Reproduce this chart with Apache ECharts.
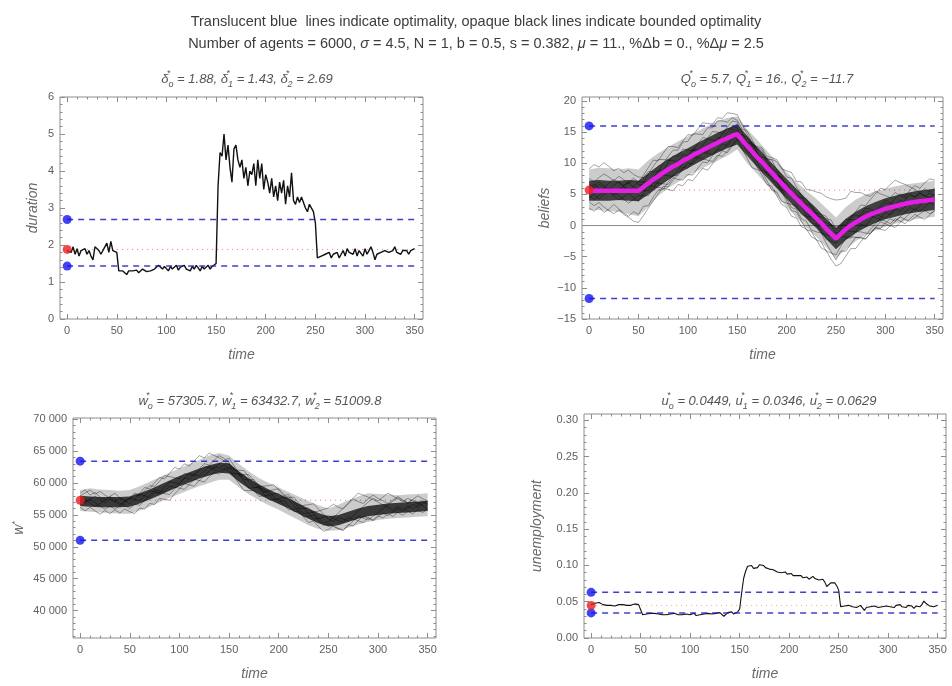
<!DOCTYPE html>
<html>
<head>
<meta charset="utf-8">
<title>bounded optimality</title>
<script src="https://cdn.jsdelivr.net/npm/echarts@6.0.0/dist/echarts.min.js"></script>
<style>
html, body { margin: 0; padding: 0; background: #ffffff; }
#chart { width: 952px; height: 686px; }
</style>
</head>
<body>
<div id="chart"></div>
<script>
// reference values (optimality)
var deltaO = 1.88, delta1 = 1.43, delta2 = 2.69
var qO = 5.7, q1 = 16, q2 = -11.7
var wO = 57305.7, w1 = 63432.7, w2 = 51009.8
var uO = 0.0449, u1 = 0.0346, u2 = 0.0629

// tick labels
var timeTicks = [0, 50, 100, 150, 200, 250, 300, 350]
var durTicks = [0, 1, 2, 3, 4, 5, 6]
var beliefTicks = [-15, -10, -5, 0, 5, 10, 15, 20]
var wageTicks = [40000, 45000, 50000, 55000, 60000, 65000, 70000]
var unempTicks = [0, 0.05, 0.10, 0.15, 0.20, 0.25, 0.30]

// duration, every 2 periods from t = 0
var duration = [
  1.85, 1.9, 1.8, 1.95, 1.75, 1.9, 1.7, 1.85, 1.8, 1.9, 1.75, 1.85, 1.7, 1.6, 1.95, 2.0, 1.85, 1.75, 1.8, 1.95, 2.05, 1.8, 2.1, 1.85, 1.85, 1.8,
  1.3, 1.25, 1.3, 1.25, 1.2, 1.3, 1.25, 1.3, 1.28, 1.32, 1.25, 1.3, 1.35, 1.3, 1.28, 1.32, 1.3, 1.25, 1.35, 1.3,
  1.45, 1.4, 1.35, 1.42, 1.38, 1.3, 1.42, 1.35, 1.4, 1.45, 1.32, 1.4, 1.38, 1.45, 1.35, 1.4, 1.3, 1.42, 1.35, 1.45,
  1.38, 1.3, 1.42, 1.35, 1.4, 1.45, 1.35, 1.42, 1.45, 1.5,
  3.6, 4.5, 4.4, 5.0, 4.3, 4.7, 4.1, 3.7, 4.6, 4.7, 4.3, 4.1, 4.3, 3.8, 4.1, 3.6, 4.0, 3.9, 4.2, 3.6,
  4.3, 3.8, 4.2, 3.5, 3.9, 3.7, 3.4, 3.8, 3.3, 3.6, 3.2, 3.7, 3.4, 3.75, 3.1, 3.6, 3.3, 3.95, 3.2, 3.1,
  3.3, 3.15, 3.3, 3.35, 3.0, 2.9, 3.1, 3.05, 2.9, 2.6,
  1.65, 1.6, 1.7, 1.65, 1.75, 1.7, 1.8, 1.65, 1.75, 1.7, 1.8, 1.65, 1.75, 1.85, 1.7, 1.9, 1.8, 1.85, 1.75, 1.9,
  1.7, 1.85, 1.8, 1.7, 1.9, 1.75, 1.85, 1.95, 1.8, 1.6, 1.75, 1.7, 1.8, 1.75, 1.85, 1.9, 1.8, 1.75, 1.85, 1.95,
  1.8, 1.85, 1.75, 1.85, 1.8, 1.85, 1.75, 1.85, 1.8, 1.9
]

// unemployment, every 2 periods from t = 0
var unemployment = [
  0.046, 0.047, 0.048, 0.047, 0.049, 0.048, 0.046, 0.047, 0.045, 0.046, 0.045, 0.046, 0.044, 0.045, 0.046, 0.045, 0.046, 0.044, 0.045, 0.046,
  0.045, 0.046, 0.047, 0.045, 0.046, 0.046,
  0.032, 0.034, 0.033, 0.032, 0.034, 0.033, 0.034, 0.032, 0.033, 0.034, 0.032, 0.033, 0.032, 0.031, 0.033, 0.032, 0.034, 0.033, 0.032, 0.030,
  0.032, 0.034, 0.033, 0.034, 0.032, 0.033, 0.034, 0.031, 0.030, 0.032, 0.034, 0.033, 0.032, 0.034, 0.035, 0.033, 0.032, 0.034, 0.036, 0.035,
  0.033, 0.030, 0.031, 0.035, 0.034, 0.036, 0.033, 0.035, 0.036, 0.040,
  0.062, 0.082, 0.092, 0.099, 0.097, 0.100, 0.096, 0.098, 0.097, 0.101, 0.099, 0.100, 0.097, 0.098, 0.095, 0.096, 0.094, 0.093, 0.091, 0.093,
  0.090, 0.089, 0.091, 0.088, 0.087, 0.089, 0.086, 0.085, 0.086, 0.084, 0.086, 0.083, 0.082, 0.084, 0.081, 0.083, 0.085, 0.082, 0.083, 0.080,
  0.082, 0.081, 0.077, 0.071, 0.073, 0.076, 0.078, 0.076, 0.072, 0.066,
  0.043, 0.041, 0.044, 0.043, 0.045, 0.044, 0.043, 0.044, 0.042, 0.044, 0.045, 0.043, 0.038, 0.042, 0.044, 0.043, 0.041, 0.044, 0.043, 0.042,
  0.044, 0.043, 0.045, 0.044, 0.046, 0.043, 0.044, 0.042, 0.045, 0.044, 0.046, 0.043, 0.044, 0.042, 0.045, 0.043, 0.044, 0.041, 0.044, 0.045,
  0.043, 0.046, 0.051, 0.048, 0.047, 0.044, 0.045, 0.043, 0.042, 0.045
]

// mean belief (magenta), every 5 periods
var beliefMean = [
  5.6, 5.6, 5.6, 5.6, 5.6, 5.6, 5.6, 5.6, 5.6, 5.6,
  5.6, 6.2, 6.8, 7.4, 7.9, 8.5, 9.0, 9.5, 9.9, 10.4,
  10.8, 11.3, 11.7, 12.1, 12.5, 12.9, 13.3, 13.7, 14.0, 14.4,
  14.7, 13.7, 12.8, 11.9, 11.0, 10.2, 9.3, 8.5, 7.6, 6.8,
  5.9, 5.1, 4.3, 3.5, 2.7, 2.0, 1.2, 0.4, -0.5, -1.3,
  -2.1, -1.3, -0.6, 0.0, 0.5, 1.0, 1.4, 1.8, 2.1, 2.4,
  2.7, 2.9, 3.1, 3.3, 3.5, 3.65, 3.8, 3.9, 4.0, 4.1,
  4.2
]

// individual agents' beliefs, every 5 periods
var b1 = [9.1, 9.8, 9.4, 10.1, 9.5, 8.8, 9.2, 8.5, 8.9, 8.2, 7.8, 7.7, 8.7, 8.6, 8.7, 9.9, 11.1, 12.1, 12.1, 13.4,
  13.5, 14.7, 14.7, 14.6, 15.7, 15.7, 16.8, 16.8, 16.6, 17.3, 16.9, 15.5, 15.2, 13.8, 12.3, 11.9, 10.4, 9.1, 8.6, 7.2,
  6.8, 5.4, 4.1, 3.9, 2.4, 2.2, 2.0, 0.7, 0.5, 0.1, -0.2, 0.0, 0.2, 1.5, 1.6, 1.5, 2.3, 2.1, 1.9, 2.8,
  3.6, 3.4, 4.4, 5.1, 4.7, 5.7, 6.4, 6.0, 6.9, 7.5, 7.3]
var b2 = [2.8, 2.3, 3.0, 2.1, 2.6, 3.4, 2.7, 2.0, 1.5, 2.2, 1.8, 3.1, 3.2, 4.6, 5.7, 5.8, 7.0, 8.1, 8.0, 9.1,
  10.0, 9.9, 10.8, 11.8, 11.6, 11.4, 12.2, 13.1, 12.8, 13.7, 14.4, 14.1, 12.6, 12.4, 11.1, 9.6, 8.2, 7.8, 6.2, 5.9,
  4.3, 2.9, 2.6, 1.1, 0.7, -0.7, -1.0, -1.2, -2.8, -4.2, -5.5, -4.1, -4.1, -3.0, -1.9, -1.9, -2.1, -1.2, -0.3, -0.5,
  0.4, 1.1, 0.7, 1.4, 1.0, 0.7, 1.3, 1.9, 2.4, 1.9, 2.4]
var b3 = [6.1, 6.7, 6.0, 5.3, 5.8, 6.5, 7.0, 6.4, 6.9, 6.2, 5.7, 5.6, 5.6, 6.9, 6.8, 6.7, 6.6, 7.7, 7.4, 7.3,
  8.2, 8.1, 9.2, 10.2, 10.1, 11.2, 12.2, 12.1, 13.1, 14.1, 14.9, 14.5, 14.2, 12.8, 12.5, 12.2, 10.7, 10.6, 10.3, 9.1,
  8.8, 8.5, 7.1, 7.0, 5.8, 5.7, 5.4, 5.2, 4.6, 4.3, 4.1, 4.2, 4.4, 5.5, 5.3, 5.3, 4.9, 4.7, 5.5, 5.1,
  4.8, 4.5, 5.3, 4.8, 4.4, 5.1, 4.6, 5.2, 4.7, 5.2, 4.8]
var b4 = [4.4, 5.0, 4.3, 4.9, 5.5, 4.8, 4.1, 4.6, 5.2, 4.5, 3.9, 5.2, 6.4, 7.7, 8.8, 8.9, 10.1, 11.2, 11.1, 12.3,
  12.1, 12.0, 13.1, 14.1, 14.0, 15.1, 15.0, 14.8, 15.8, 16.8, 16.6, 14.9, 13.4, 13.2, 11.7, 10.3, 8.7, 7.3, 6.9, 5.4,
  3.9, 2.4, 2.2, 0.7, -0.7, -0.9, -2.3, -2.6, -4.1, -4.4, -4.7, -3.3, -2.0, -2.0, -1.0, 0.2, 0.0, 0.9, 1.8, 1.5,
  1.2, 1.9, 2.7, 2.3, 3.0, 3.8, 3.4, 4.1, 3.7, 4.4, 4.0]
var b5 = [7.6, 7.0, 7.7, 8.3, 7.8, 7.2, 7.9, 7.4, 6.7, 7.3, 6.6, 6.5, 6.4, 6.3, 6.1, 6.0, 5.8, 5.6, 6.6, 6.4,
  7.4, 7.2, 8.2, 9.2, 8.9, 9.9, 11.0, 12.0, 11.7, 12.8, 13.7, 13.4, 13.2, 11.7, 10.2, 8.7, 7.2, 5.7, 5.4, 3.9,
  3.6, 3.4, 3.2, 1.8, 1.5, 1.4, 1.3, -0.1, -0.3, -1.7, -1.9, -1.8, -1.8, -1.8, -1.9, -2.0, -2.2, -1.2, -0.3, 0.6,
  0.3, -0.1, 0.7, 1.4, 2.2, 2.9, 2.5, 3.2, 3.9, 4.6, 4.2]
var b6 = [5.3, 6.0, 6.6, 6.1, 6.8, 7.4, 6.9, 6.3, 5.8, 5.2, 5.8, 7.0, 8.3, 9.5, 10.6, 10.6, 10.5, 10.4, 10.2, 10.1,
  11.2, 12.3, 12.2, 12.0, 11.8, 12.7, 13.7, 14.7, 15.6, 15.5, 15.3, 13.6, 13.3, 13.0, 12.7, 12.5, 11.1, 10.9, 10.6, 9.3,
  7.8, 7.6, 6.2, 4.8, 3.4, 3.3, 2.0, 1.8, 1.5, 0.1, -1.2, -1.0, -0.9, -0.9, -1.0, -1.0, -1.2, -1.3, -0.4, -0.6,
  -0.8, 0.0, -0.3, 0.5, 1.2, 2.0, 2.7, 2.3, 3.0, 3.7, 3.3]
var b7 = [3.8, 3.2, 3.7, 3.0, 2.4, 1.9, 2.5, 1.8, 1.3, 0.7, 0.5, 1.6, 2.8, 4.0, 5.1, 6.3, 6.2, 7.3, 8.3, 9.4,
  9.2, 10.3, 11.3, 12.3, 12.1, 13.1, 14.1, 14.0, 14.9, 15.9, 15.7, 14.0, 12.5, 11.0, 9.5, 8.1, 6.6, 6.3, 4.8, 3.4,
  2.9, 1.5, 1.2, -0.2, -0.5, -1.8, -2.2, -3.6, -4.0, -5.4, -6.5, -6.1, -4.9, -3.7, -3.7, -2.6, -1.6, -0.6, 0.3, 1.2,
  2.1, 1.7, 2.5, 3.3, 4.1, 4.9, 4.5, 5.2, 4.8, 4.4, 5.0]
var b8 = [6.6, 6.0, 5.4, 6.1, 5.5, 4.9, 5.5, 6.2, 5.6, 6.3, 6.9, 8.1, 9.3, 10.5, 10.4, 11.6, 12.7, 12.7, 12.5, 13.6,
  14.6, 14.5, 15.5, 16.5, 16.4, 16.3, 17.3, 17.2, 18.1, 18.0, 17.8, 16.2, 14.7, 13.2, 11.7, 10.3, 8.8, 8.6, 7.1, 5.7,
  5.4, 5.2, 5.0, 3.7, 2.3, 1.0, 0.7, -0.7, -2.2, -2.5, -2.8, -1.4, -0.1, 1.1, 2.2, 3.3, 3.2, 4.2, 5.1, 6.0,
  5.8, 6.6, 7.3, 6.9, 6.6, 6.2, 5.8, 5.3, 5.9, 5.4, 6.0]
var b9 = [4.8, 4.2, 4.8, 5.4, 6.0, 5.4, 4.8, 4.2, 3.6, 4.2, 4.8, 4.8, 4.8, 6.0, 7.1, 8.3, 9.4, 9.3, 10.3, 11.4,
  11.2, 11.1, 10.9, 10.7, 10.5, 10.3, 11.3, 11.1, 12.0, 13.0, 13.9, 12.3, 10.8, 9.3, 9.0, 8.8, 8.5, 8.3, 8.0, 7.8,
  6.3, 4.9, 4.7, 4.5, 4.3, 3.0, 1.6, 1.4, 1.1, 0.9, -0.5, -0.3, 1.0, 1.0, 0.9, 0.8, 1.8, 1.6, 1.3, 1.0,
  0.7, 0.3, 1.1, 0.7, 0.3, 1.1, 1.8, 1.3, 1.0, 1.7, 2.4]
var b10 = [5.8, 6.4, 7.0, 6.4, 5.8, 5.2, 5.8, 6.4, 7.0, 7.6, 7.0, 7.0, 7.0, 7.0, 8.1, 8.1, 8.0, 7.9, 8.9, 10.0,
  11.0, 12.1, 11.9, 12.9, 13.9, 13.7, 13.5, 13.3, 14.2, 15.2, 14.9, 13.3, 11.8, 11.5, 11.2, 11.0, 10.7, 10.5, 9.0, 7.6,
  6.1, 4.7, 4.5, 3.1, 1.7, 0.4, 0.2, -1.2, -1.5, -1.7, -1.9, -0.5, -0.4, -0.4, 0.7, 1.8, 2.8, 2.6, 2.3, 3.2,
  4.1, 3.7, 3.3, 4.1, 3.7, 3.3, 4.0, 3.5, 4.2, 3.7, 4.4]
var beliefLines = [b1, b2, b3, b4, b5, b6, b7, b8, b9, b10]

// dense part of the belief bundle, every 10 periods
var beliefCoreLow = [4.0, 4.0, 4.0, 4.1, 4.0, 3.9, 5.0, 6.2, 7.3, 8.3, 9.2, 10.1, 10.9, 11.7, 12.4, 13.0, 11.2, 9.4,
  7.7, 6.0, 4.3, 2.7, 1.1, -0.4, -2.1, -3.8, -2.3, -1.2, -0.3, 0.4, 1.0, 1.4, 1.8, 2.1, 2.3, 2.5]
var beliefCoreHigh = [7.2, 7.3, 7.2, 7.2, 7.3, 7.2, 8.4, 9.6, 10.7, 11.6, 12.4, 13.3, 14.1, 14.9, 15.6, 16.3, 14.4, 12.6,
  10.9, 9.2, 7.5, 5.9, 4.3, 2.8, 1.1, -0.4, 1.1, 2.2, 3.1, 3.8, 4.4, 4.8, 5.2, 5.5, 5.7, 5.9]
var beliefOuterLow = [2.5, 2.5, 2.3, 2.2, 1.8, 1.5, 3.0, 4.8, 6.0, 7.0, 8.0, 8.8, 9.6, 10.4, 11.2, 12.2, 10.0, 8.3,
  6.5, 4.8, 3.0, 1.3, -0.3, -1.8, -3.5, -5.3, -3.8, -2.5, -1.5, -0.8, -0.2, 0.3, 0.7, 1.0, 1.2, 1.4]
var beliefOuterHigh = [9.0, 9.3, 9.2, 9.0, 9.2, 9.0, 10.5, 11.6, 12.6, 13.5, 14.3, 15.2, 16.0, 16.8, 17.3, 17.5, 15.5, 13.8,
  12.0, 10.3, 8.6, 7.0, 5.6, 4.3, 2.8, 1.3, 3.0, 4.2, 5.0, 5.5, 5.9, 6.3, 6.6, 6.8, 7.0, 7.2]

// individual agents' reservation wages, every 5 periods
var wa = [58400, 58950, 58100, 58550, 57800, 57300, 57900, 58400, 57700, 57250, 56700, 57500, 58400, 59300, 59100, 60050, 60900, 60650, 61500, 62450,
  62200, 63000, 62700, 63500, 64300, 63950, 64700, 64300, 64000, 63450, 62800, 61500, 61400, 60250, 59200, 59250, 59300, 58300, 57400, 57450,
  57600, 57750, 57900, 57000, 56100, 55200, 55300, 55450, 55600, 55850, 56100, 56700, 56200, 55950, 56700, 57450, 57100, 56800, 57500, 58100,
  57600, 57200, 56800, 57350, 57900, 57350, 56900, 57450, 58000, 57550, 57100]
var wb = [56200, 55650, 56200, 55650, 55100, 55700, 55200, 55800, 55300, 55950, 55500, 55200, 56100, 55900, 56800, 56650, 57600, 57450, 57300, 58250,
  59100, 59900, 59700, 59500, 60400, 60150, 61000, 61700, 61400, 62050, 62400, 62300, 61200, 61250, 60200, 59250, 59400, 58500, 58700, 57850,
  57000, 57250, 56400, 55500, 55600, 54700, 53800, 54050, 53200, 52450, 52700, 53300, 52900, 52650, 53500, 53250, 54100, 53800, 54600, 54200,
  54900, 54500, 55200, 54750, 55400, 54950, 55600, 55150, 55800, 55350, 56000]
var wc = [57600, 56950, 57400, 57950, 57400, 56900, 57500, 57000, 57600, 57150, 57700, 57400, 57200, 58000, 57700, 58550, 58400, 59350, 60200, 60050,
  59900, 60800, 60600, 61400, 62200, 63050, 62800, 63600, 64300, 63850, 63200, 62000, 62000, 61950, 60900, 59950, 59000, 59100, 58200, 57350,
  57500, 56650, 55800, 55900, 56000, 56100, 55200, 54350, 54500, 53750, 54000, 54600, 55300, 56050, 56900, 57650, 58400, 58100, 57800, 57400,
  57000, 56600, 56200, 55750, 56300, 55850, 56400, 55950, 56500, 57050, 56600]
var wd = [56900, 57450, 56900, 56350, 56800, 57400, 57900, 57400, 56900, 56450, 56000, 56700, 56500, 57300, 58100, 58950, 58800, 58650, 59500, 59350,
  59200, 59000, 59800, 60600, 60400, 61150, 61900, 62600, 62300, 62850, 62200, 61000, 59900, 58850, 58800, 58850, 57900, 58000, 58100, 58250,
  58400, 57550, 57700, 57800, 56900, 56000, 56100, 55250, 54400, 54650, 54900, 54500, 54100, 53850, 54600, 54350, 54100, 54800, 54500, 54100,
  54700, 55300, 54900, 55450, 56000, 55550, 56100, 56650, 56200, 56750, 57300]
var we = [58000, 58450, 58900, 58250, 58700, 58100, 57600, 57100, 56600, 57150, 57700, 58400, 58200, 58000, 58800, 58650, 58500, 58350, 58200, 59050,
  59900, 60700, 61500, 61300, 61100, 61850, 62600, 62300, 63000, 63550, 63900, 62700, 61600, 60550, 60500, 60550, 59600, 58700, 58800, 58950,
  59100, 58250, 57400, 56500, 55600, 54700, 54800, 54950, 54100, 53350, 53600, 53200, 52800, 52550, 53300, 54050, 54800, 54500, 54200, 54800,
  55400, 56000, 56600, 57150, 57700, 57250, 56800, 57350, 56900, 56450, 56000]
var wf = [56600, 57050, 57500, 56950, 56400, 55900, 56400, 55900, 56400, 56950, 57500, 58200, 58000, 58800, 59600, 59450, 60300, 61150, 61000, 60850,
  60700, 61500, 61300, 61100, 61900, 62650, 62400, 62100, 61800, 62350, 61700, 61500, 61400, 61350, 61300, 60350, 59400, 59500, 59600, 59750,
  58900, 58050, 58200, 57300, 56400, 56500, 56600, 56750, 55900, 55150, 54400, 54000, 54600, 54350, 54100, 54850, 55600, 56300, 57000, 57600,
  57200, 57800, 58400, 57950, 57500, 57050, 57600, 57150, 56700, 57250, 56800]
var wageLines = [wa, wb, wc, wd, we, wf]

// dense part of the wage bundle, every 10 periods
var wageCoreLow = [56400, 56300, 56200, 56200, 56200, 56300, 56800, 57400, 58100, 58800, 59500, 60100, 60700, 61200, 61600, 61500, 60200, 59100,
  58200, 57400, 56700, 56000, 55200, 54400, 53700, 53200, 53400, 53900, 54400, 54800, 55000, 55200, 55300, 55400, 55500, 55600]
var wageCoreHigh = [58000, 57900, 57800, 57800, 57800, 57900, 58400, 59000, 59700, 60400, 61100, 61700, 62300, 62800, 63200, 63100, 61800, 60700,
  59800, 59000, 58300, 57600, 56800, 56000, 55300, 54800, 55000, 55500, 56000, 56400, 56600, 56800, 56900, 57000, 57100, 57200]
var wageOuterLow = [55600, 55500, 55400, 55300, 55200, 55200, 55700, 56300, 57000, 57700, 58300, 58900, 59500, 60000, 60500, 60500, 59300, 58200,
  57300, 56500, 55800, 55000, 54200, 53400, 52800, 52500, 52600, 53000, 53500, 53900, 54200, 54400, 54500, 54600, 54700, 54800]
var wageOuterHigh = [58900, 59200, 59000, 58900, 58800, 58900, 59500, 60200, 60900, 61600, 62300, 63000, 63600, 64300, 64700, 64300, 63000, 61800,
  60800, 60000, 59300, 58600, 57900, 57200, 56500, 56000, 56600, 57300, 57900, 58400, 58300, 58200, 58100, 58200, 58300, 58400]

function stepTimes (step, n) {
  var out = []
  for (var i = 0; i < n; i++) out.push(i * step)
  return out
}
function pairs (times, values) {
  return values.map(function (v, i) { return [times[i], v] })
}
function minorOf (lo, hi, step, majors) {
  var out = []
  for (var v = lo; v <= hi + 1e-9; v += step) {
    var r = Math.round(v * 1e6) / 1e6
    if (majors.indexOf(r) < 0) out.push(r)
  }
  return out
}

var font = 'Liberation Sans'
var frameGray = '#8c8c8c'
var labelGray = '#606060'
var xRange = [-7.2, 358.4]
var timeMinor = minorOf(0, 350, 10, timeTicks)

// labelled + minor ticks on one side, mirrored major + minor on the other
function axesFor (gi, isX, range, major, minor, fmt, name, gap) {
  var sides = isX ? ['bottom', 'top'] : ['left', 'right']
  var list = []
  sides.forEach(function (pos, k) {
    [major, minor].forEach(function (vals, m) {
      var ax = {
        gridIndex: gi, type: 'value', min: range[0], max: range[1], position: pos,
        axisLine: {show: false, onZero: false},
        splitLine: {show: false},
        axisTick: {show: true, inside: true, length: m === 0 ? 5 : 2.5, customValues: vals, lineStyle: {color: frameGray, width: 1}},
        axisLabel: {show: false}
      }
      if (k === 0 && m === 0) {
        ax.axisLabel = {show: true, customValues: major, formatter: fmt, color: labelGray, fontSize: 11, fontFamily: font, margin: 6}
        ax.name = name
        ax.nameLocation = 'middle'
        ax.nameGap = gap
        ax.nameTextStyle = {fontStyle: 'italic', fontSize: 14, color: '#6a6a6a', fontFamily: font, rich: {sp: {fontSize: 9, fontStyle: 'italic', color: '#6a6a6a', verticalAlign: 'top', lineHeight: 16}}}
      }
      list.push(ax)
    })
  })
  return list
}

var grids = [
  {left: 60, top: 97, width: 363, height: 222},
  {left: 582, top: 97, width: 361, height: 222},
  {left: 73, top: 418, width: 363, height: 220},
  {left: 584, top: 414, width: 362, height: 224}
]
grids.forEach(function (g) {
  g.show = true
  g.borderColor = frameGray
  g.borderWidth = 1
  g.backgroundColor = 'transparent'
})

var plainFmt = function (v) { return String(v) }
var xAxes = []
var yAxes = []
for (var gi = 0; gi < 4; gi++) {
  xAxes = xAxes.concat(axesFor(gi, true, xRange, timeTicks, timeMinor, plainFmt, 'time', 29))
}
yAxes = yAxes.concat(axesFor(0, false, [0, 6], durTicks, minorOf(0, 6, 0.2, durTicks), plainFmt, 'duration', 20))
yAxes = yAxes.concat(axesFor(1, false, [-15, 20.64], beliefTicks, minorOf(-15, 20, 1, beliefTicks), function (v) { return v < 0 ? '\u2212' + (-v) : String(v) }, 'beliefs', 30))
yAxes = yAxes.concat(axesFor(2, false, [35700, 70200], wageTicks, minorOf(36000, 70000, 1000, wageTicks), function (v) {
  var s = String(v)
  return s.slice(0, s.length - 3) + ' ' + s.slice(s.length - 3)
}, 'w{sp|*}', 46))
yAxes = yAxes.concat(axesFor(3, false, [0, 0.3088], unempTicks, minorOf(0.01, 0.3, 0.01, unempTicks.map(function (v) { return Math.round(v * 1e6) / 1e6 })), function (v) { return v.toFixed(2) }, 'unemployment', 40))

var t2 = stepTimes(2, 176)
var t5 = stepTimes(5, 71)
var t10 = stepTimes(10, 36)

function line (gi, data, style, z) {
  return {type: 'line', xAxisIndex: gi * 4, yAxisIndex: gi * 4, data: data, showSymbol: false, symbol: 'none', silent: true, lineStyle: style, z: z || 2}
}
function hline (gi, v, style, x0, x1, z) {
  return line(gi, [[x0, v], [x1, v]], style, z)
}
// filled polygon between two envelopes, placed through the grid's own axes
function band (gi, lower, upper, color) {
  return {
    type: 'custom', xAxisIndex: gi * 4, yAxisIndex: gi * 4, silent: true, z: 2,
    data: [[t10[0], lower[0]]],
    renderItem: function (params, api) {
      var pts = []
      upper.forEach(function (v, i) { pts.push(api.coord([t10[i], v])) })
      for (var i = lower.length - 1; i >= 0; i--) pts.push(api.coord([t10[i], lower[i]]))
      return {type: 'polygon', shape: {points: pts}, style: {fill: color}}
    }
  }
}
function dots (gi, blues, red) {
  var base = {type: 'scatter', xAxisIndex: gi * 4, yAxisIndex: gi * 4, symbolSize: 9, silent: true, z: 10}
  return [
    Object.assign({}, base, {data: blues.map(function (v) { return [0, v] }), itemStyle: {color: '#1414f0'}}),
    Object.assign({}, base, {data: [[0, red]], itemStyle: {color: '#ee1c1c'}})
  ]
}

var blueDash = {color: 'rgba(30,30,190,0.85)', width: 1.5, type: [6, 5]}
var redDot = {color: 'rgba(225,70,70,0.75)', width: 1, type: [1, 4]}
var agentLine = {color: 'rgba(0,0,0,0.45)', width: 0.8}

var series = []
// duration
series.push(hline(0, deltaO, redDot, 0, 350, 1))
series.push(line(0, pairs(t2, duration), {color: '#111', width: 1.4}, 3))
series.push(hline(0, delta2, blueDash, 0, 350, 4))
series.push(hline(0, delta1, blueDash, 0, 350, 4))
series = series.concat(dots(0, [delta2, delta1], deltaO))

// beliefs
series.push(hline(1, 0, {color: '#8a8a8a', width: 1}, xRange[0], xRange[1], 1))
series.push(hline(1, qO, redDot, 0, 350, 1))
series.push(band(1, beliefOuterLow, beliefOuterHigh, 'rgba(0,0,0,0.2)'))
series.push(band(1, beliefCoreLow, beliefCoreHigh, 'rgba(10,10,10,0.72)'))
beliefLines.forEach(function (b) { series.push(line(1, pairs(t5, b), agentLine, 3)) })
series.push(line(1, pairs(t5, beliefMean), {color: '#e51ee5', width: 4.5}, 5))
series.push(hline(1, q1, blueDash, 0, 350, 6))
series.push(hline(1, q2, blueDash, 0, 350, 6))
series = series.concat(dots(1, [q1, q2], qO))

// wages
series.push(hline(2, wO, redDot, 0, 350, 1))
series.push(band(2, wageOuterLow, wageOuterHigh, 'rgba(0,0,0,0.2)'))
series.push(band(2, wageCoreLow, wageCoreHigh, 'rgba(10,10,10,0.76)'))
wageLines.forEach(function (w) { series.push(line(2, pairs(t5, w), agentLine, 3)) })
series.push(hline(2, w1, blueDash, 0, 350, 6))
series.push(hline(2, w2, blueDash, 0, 350, 6))
series = series.concat(dots(2, [w1, w2], wO))

// unemployment
series.push(hline(3, uO, {color: 'rgba(235,150,90,0.8)', width: 1, type: [1, 4]}, 0, 350, 1))
series.push(line(3, pairs(t2, unemployment), {color: '#111', width: 1.1}, 3))
series.push(hline(3, u2, blueDash, 0, 350, 4))
series.push(hline(3, u1, blueDash, 0, 350, 4))
series = series.concat(dots(3, [u2, u1], uO))

var subRich = {
  sp: {fontSize: 9, fontStyle: 'italic', color: '#555', verticalAlign: 'top', lineHeight: 20, width: 0, fontFamily: font},
  sb: {fontSize: 9, fontStyle: 'italic', color: '#555', verticalAlign: 'bottom', lineHeight: 20, fontFamily: font},
  g: {fontSize: 13, fontStyle: 'italic', color: '#555', lineHeight: 20, fontFamily: font}
}
function panelTitle (sym, vals, x, y) {
  var subs = ['o', '1', '2']
  var text = vals.map(function (v, i) {
    return '{g|' + sym + '}{sp|*}{sb|' + subs[i] + '}{g| = ' + v + '}'
  }).join('{g|, }')
  return {text: text, left: x, top: y, textAlign: 'center', textStyle: {fontSize: 13, fontStyle: 'italic', color: '#555', fontWeight: 'normal', fontFamily: font, lineHeight: 20, rich: subRich}}
}

var chart = echarts.init(document.getElementById('chart'), null, {renderer: 'canvas'})
chart.setOption({
  animation: false,
  backgroundColor: '#ffffff',
  title: [
    {
      text: 'Translucent blue  lines indicate optimality, opaque black lines indicate bounded optimality\nNumber of agents = 6000, {i|\u03c3} = 4.5, N = 1, b = 0.5, s = 0.382, {i|\u03bc} = 11., %\u0394b = 0., %\u0394{i|\u03bc} = 2.5',
      left: 'center', top: 6,
      textStyle: {fontSize: 14.5, fontWeight: 'normal', color: '#3c3c3c', fontFamily: font, lineHeight: 22, rich: {i: {fontStyle: 'italic', fontSize: 14.5, color: '#3c3c3c', fontFamily: font, lineHeight: 22}}}
    },
    panelTitle('\u03b4', ['1.88', '1.43', '2.69'], 242, 64),
    panelTitle('Q', ['5.7', '16.', '\u221211.7'], 762, 64),
    panelTitle('w', ['57305.7', '63432.7', '51009.8'], 255, 386),
    panelTitle('u', ['0.0449', '0.0346', '0.0629'], 764, 386)
  ],
  grid: grids,
  xAxis: xAxes,
  yAxis: yAxes,
  series: series
})
</script>
</body>
</html>
